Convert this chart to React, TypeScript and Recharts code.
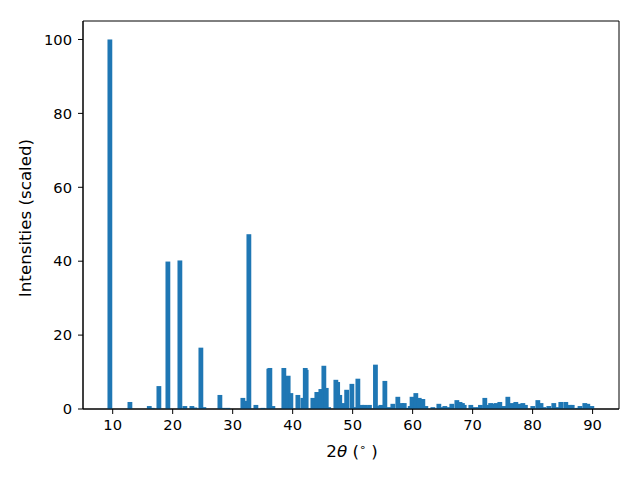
import React from 'react';
import { BarChart, Bar, XAxis, YAxis, ReferenceArea } from 'recharts';

// peak positions (2theta, degrees) and scaled intensities
const twoTheta = [
  9.53, 12.87, 16.1, 16.6, 17.7, 19.2, 21.2, 22.03, 23.2, 23.7, 24.7, 25.2, 27.87, 28.4, 29.2,
  31.7, 32.2, 32.7, 33.87, 35.03, 36.03, 36.2, 36.7, 38.53, 39.25, 39.7, 40.87, 41.7, 42.1,
  42.25, 43.37, 44.03, 44.5, 44.7, 45.2, 45.6, 46.0, 47.2, 47.5, 47.85, 48.6, 49.0, 49.87,
  50.2, 50.87, 51.5, 52.0, 52.4, 52.8, 53.8, 54.3, 54.7, 55.37, 56.1, 56.7, 57.53, 58.2,
  58.6, 59.1, 59.6, 59.9, 60.53, 61.1, 61.7, 62.2, 63.37, 64.37, 64.8, 65.37, 65.9, 66.53,
  67.37, 67.9, 68.3, 68.6, 69.7, 70.3, 71.0, 71.3, 72.03, 72.6, 73.0, 73.5, 73.9, 74.53,
  75.2, 75.87, 76.5, 77.2, 77.8, 78.37, 78.8, 80.03, 80.87, 81.4, 81.87, 82.7, 83.53, 84.0,
  84.7, 85.53, 86.2, 86.6, 87.5, 87.9, 88.7, 89.2, 89.87,
];
const intensity = [
  100, 1.9, 0.8, 0.3, 6.2, 39.9, 40.2, 0.8, 0.8, 0.4, 16.6, 0.5, 3.8, 0.3, 0.3,
  3.0, 2.2, 47.3, 1.1, 0.3, 10.9, 11.1, 0.8, 11.1, 9.0, 4.3, 3.8, 3.0, 11.1,
  10.6, 3.0, 4.6, 1.1, 5.4, 11.7, 5.7, 0.5, 7.9, 7.3, 3.8, 1.6, 5.2, 6.8,
  0.5, 8.2, 1.1, 1.1, 0.5, 1.1, 12.0, 0.8, 1.1, 7.6, 0.5, 1.4, 3.3, 1.6,
  1.6, 0.3, 0.8, 3.3, 4.3, 3.0, 2.7, 0.8, 0.5, 1.4, 0.5, 0.8, 0.5, 1.4,
  2.4, 1.9, 1.6, 1.1, 1.1, 0.5, 0.5, 1.1, 3.0, 1.1, 1.6, 1.4, 1.6, 1.9,
  0.8, 3.3, 1.6, 1.9, 1.4, 1.6, 1.1, 0.8, 2.4, 1.6, 0.5, 0.8, 1.6, 0.5,
  1.9, 1.9, 1.1, 1.1, 0.3, 0.8, 1.6, 1.4, 0.8,
];
const xTicks = [10, 20, 30, 40, 50, 60, 70, 80, 90];
const yTicks = [0, 20, 40, 60, 80, 100];
const xDomain = [5.05, 94.4];
const yDomain = [0, 105];

const data = twoTheta.map((x, i) => ({ x, y: intensity[i] }));

const font = '"DejaVu Sans", sans-serif';
const tickStyle = { fill: '#000', fontSize: 14.7, fontFamily: font };

const XLabel = () => (
  <text x={352} y={457} textAnchor="middle" fontSize={16.7} fontFamily={font} fill="#000">
    2<tspan fontStyle="italic">θ</tspan> (
    <tspan fontSize={11} dy={-6}>∘</tspan>
    <tspan dy={6}> )</tspan>
  </text>
);

const YLabel = () => (
  <text x={31} y={218} transform="rotate(-90, 31, 218)" textAnchor="middle" fontSize={16.7} fontFamily={font} fill="#000">
    Intensities (scaled)
  </text>
);

// the library computes a tiny band for close peaks, so widen each bar around its centre
const PeakBar = (props: any) => {
  const { x, y, width, height } = props;
  if (height == null || height <= 0) return null;
  const cx = x + width / 2;
  return <rect x={cx - 2.4} y={y} width={4.8} height={height} fill="#1f77b4" />;
};

const App = () => {
  return (
    <div style={{ position: 'absolute', left: 0, top: 0 }}>
      <BarChart width={640} height={480} data={data} margin={{ top: 21, right: 21, left: 0, bottom: 0 }}>
        <XAxis
          dataKey="x"
          type="number"
          domain={xDomain}
          ticks={xTicks}
          allowDataOverflow
          height={71}
          tickSize={5}
          tickMargin={6}
          tick={tickStyle}
          stroke="#000"
          label={XLabel}
        />
        <YAxis
          type="number"
          domain={yDomain}
          ticks={yTicks}
          allowDataOverflow
          width={83}
          tickSize={5}
          tickMargin={6}
          tick={tickStyle}
          stroke="#000"
          label={YLabel}
        />
        <Bar dataKey="y" fill="#1f77b4" shape={PeakBar} isAnimationActive={false} />
        <ReferenceArea
          x1={xDomain[0]}
          x2={xDomain[1]}
          y1={yDomain[0]}
          y2={yDomain[1]}
          fill="none"
          stroke="#000"
          strokeWidth={1}
          ifOverflow="visible"
        />
      </BarChart>
    </div>
  );
};

export default App;
